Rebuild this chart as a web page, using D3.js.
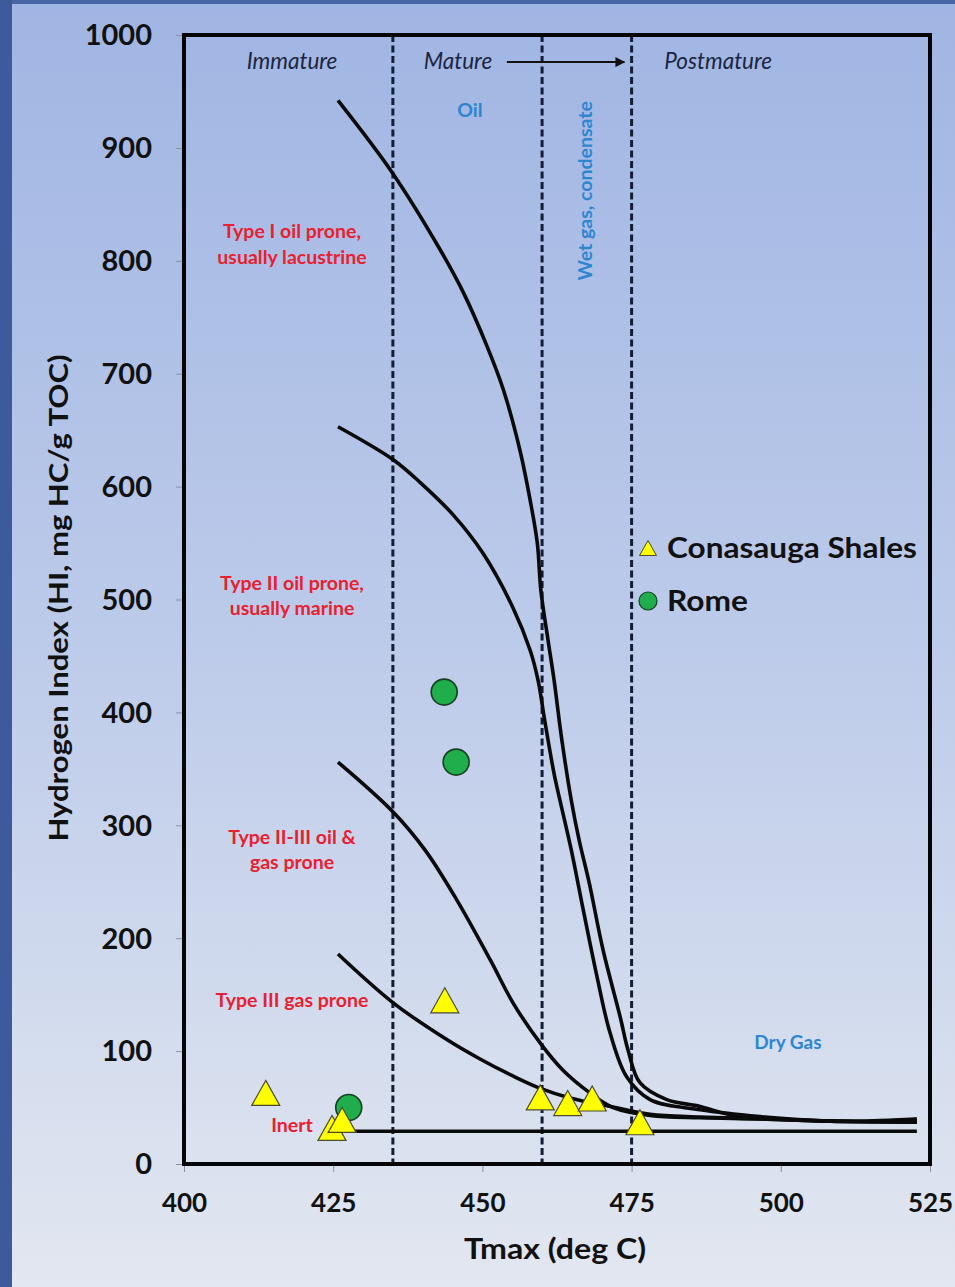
<!DOCTYPE html>
<html>
<head>
<meta charset="utf-8">
<script src="https://cdn.jsdelivr.net/npm/d3@7"></script>
<style>
  html, body { margin: 0; padding: 0; }
  body { width: 955px; height: 1287px; overflow: hidden; }
  svg { display: block; }
  text { font-family: Lato, "Open Sans", sans-serif; }
</style>
</head>
<body>
<svg id="chart" width="955" height="1287"></svg>
<script>
// Maturation pathways of kerogen types (Tmax in deg C, HI in mg HC/g TOC)
const typeI_T   = [425.8, 434.9, 442.9, 446.8, 450.8, 453.5, 456.3, 458.0, 459.2, 459.8, 461.0, 462.0, 463.3, 464.9, 466.2, 467.9, 470.2, 473.1, 474.4, 476.4, 480.9, 486.5, 492.0, 503.2, 514.4, 522.8];
const typeI_HI  = [942, 878, 810, 772, 724, 686, 632, 588, 550, 508, 464, 429, 376, 322, 287, 249, 190, 130, 101, 72, 57, 51, 43, 39, 38, 40];

const typeII_T  = [425.8, 435.0, 439.5, 445.1, 450.1, 455.1, 458.0, 459.3, 460.5, 462.0, 463.0, 464.9, 466.9, 469.2, 471.4, 474.2, 478.1, 486.5, 496.5, 508.2, 522.8];
const typeII_HI = [653, 624, 604, 575, 541, 493, 455, 429, 391, 346, 322, 278, 225, 166, 116, 77, 57, 48, 42, 38, 38];

const typeIIIII_T  = [425.8, 435.0, 440.4, 445.7, 451.3, 455.1, 459.7, 463.5, 468.0, 471.9, 478.1, 486.5, 496.5, 508.2, 522.8];
const typeIIIII_HI = [356, 312, 278, 234, 181, 143, 107, 83, 63, 50, 43, 41, 40, 38, 37];

const typeIII_T  = [425.8, 435.0, 444.1, 449.6, 455.1, 459.7, 464.7, 471.9, 478.1, 486.5, 496.5, 508.2, 522.8];
const typeIII_HI = [186, 143, 110, 93, 78, 67, 58.5, 50.5, 44, 41.6, 40, 38, 37];

const inert_T  = [426.0, 522.8];
const inert_HI = [29, 29];

// Maturity zone boundaries (Tmax)
const zoneBounds = [435, 460, 475];

// Samples
const conasauga_T  = [413.7, 424.8, 426.5, 443.7, 459.7, 464.3, 468.4, 476.4];
const conasauga_HI = [63, 32, 39, 145, 59, 54, 58, 37];

const rome_T  = [443.6, 445.6, 427.6];
const rome_HI = [418, 356, 50];

// Axis ticks
const xTicks = [400, 425, 450, 475, 500, 525];
const yTicks = [0, 100, 200, 300, 400, 500, 600, 700, 800, 900, 1000];

const W = 955, H = 1287;
const svg = d3.select("#chart");

// Slide background
const defs = svg.append("defs");
const grad = defs.append("linearGradient").attr("id", "bg").attr("x1", 0).attr("y1", 0).attr("x2", 0).attr("y2", 1);
grad.append("stop").attr("offset", "0%").attr("stop-color", "#a0b5e3");
grad.append("stop").attr("offset", "50%").attr("stop-color", "#bdcbea");
grad.append("stop").attr("offset", "100%").attr("stop-color", "#e2e7f0");
svg.append("rect").attr("width", W).attr("height", H).attr("fill", "url(#bg)");
svg.append("rect").attr("x", 0).attr("y", 0).attr("width", W).attr("height", 4).attr("fill", "#4964a5");
svg.append("rect").attr("x", 0).attr("y", 0).attr("width", 12).attr("height", H).attr("fill", "#3d5b9c");

defs.append("marker").attr("id", "arrow").attr("viewBox", "0 0 10 10")
  .attr("refX", 9).attr("refY", 5).attr("markerWidth", 5).attr("markerHeight", 5)
  .attr("orient", "auto")
  .append("path").attr("d", "M0,0 L10,5 L0,10 Z").attr("fill", "#111");

const x = d3.scaleLinear().domain([400, 525]).range([184, 930]);
const y = d3.scaleLinear().domain([0, 1000]).range([1164, 35]);

// Axes
const xAxis = d3.axisBottom(x).tickValues(xTicks).tickFormat(d3.format("d"))
  .tickSize(8).tickPadding(22).tickSizeOuter(0);
const yAxis = d3.axisLeft(y).tickValues(yTicks).tickFormat(d3.format("d"))
  .tickSize(8).tickPadding(24).tickSizeOuter(0);

const gx = svg.append("g").attr("transform", `translate(0,${y(0)})`).call(xAxis);
const gy = svg.append("g").attr("transform", `translate(${x(400)},0)`).call(yAxis);
[gx, gy].forEach(g => {
  g.select(".domain").remove();
  g.selectAll(".tick line").attr("stroke", "#8a93a6").attr("stroke-width", 1);
  g.selectAll(".tick text").attr("fill", "#111").attr("font-weight", 700)
    .style("font-family", "Lato, sans-serif");
});
gx.selectAll(".tick text").attr("font-size", 26);
gy.selectAll(".tick text").attr("font-size", 29).attr("dy", "0.34em");

// Axis titles
svg.append("text").attr("x", 555).attr("y", 1259).attr("text-anchor", "middle")
  .attr("font-size", 28).attr("font-weight", 700).attr("fill", "#111")
  .attr("textLength", 182).attr("lengthAdjust", "spacingAndGlyphs").text("Tmax (deg C)");
svg.append("text").attr("transform", `translate(68,${598}) rotate(-90)`).attr("text-anchor", "middle")
  .attr("font-size", 26).attr("font-weight", 700).attr("fill", "#111")
  .attr("textLength", 487).attr("lengthAdjust", "spacingAndGlyphs")
  .text("Hydrogen Index (HI, mg HC/g TOC)");

// Maturity zone boundaries
svg.append("g").selectAll("line").data(zoneBounds).join("line")
  .attr("x1", d => x(d)).attr("x2", d => x(d))
  .attr("y1", y(1000)).attr("y2", y(0))
  .attr("stroke", "#141d36").attr("stroke-width", 3).attr("stroke-dasharray", "7,3.5");

// Kerogen pathway curves
const curves = [
  [typeI_T, typeI_HI],
  [typeII_T, typeII_HI],
  [typeIIIII_T, typeIIIII_HI],
  [typeIII_T, typeIII_HI],
  [inert_T, inert_HI]
];
const line = d3.line().x(d => x(d[0])).y(d => y(d[1])).curve(d3.curveCatmullRom.alpha(0.5));
svg.append("g").selectAll("path").data(curves).join("path")
  .attr("d", c => line(c[0].map((t, i) => [t, c[1][i]])))
  .attr("fill", "none").attr("stroke", "#0a0a0a").attr("stroke-width", 3.6)
  .attr("stroke-linejoin", "round").attr("stroke-linecap", "butt");

// Frame
svg.append("rect").attr("x", x(400)).attr("y", y(1000))
  .attr("width", x(525) - x(400)).attr("height", y(0) - y(1000))
  .attr("fill", "none").attr("stroke", "#050505").attr("stroke-width", 4);

// Maturity labels
const navy = "#1c2540";
[["Immature", 418.1], ["Mature", 445.9], ["Postmature", 489.5]].forEach(([t, v]) => {
  svg.append("text").attr("x", x(v)).attr("y", y(970)).attr("text-anchor", "middle")
    .attr("font-size", 22.5).attr("font-style", "italic").attr("fill", navy).text(t);
});
svg.append("line").attr("x1", x(454.1)).attr("x2", x(473.8)).attr("y1", y(976)).attr("y2", y(976))
  .attr("stroke", "#111").attr("stroke-width", 2).attr("marker-end", "url(#arrow)");

// Hydrocarbon window labels
const blue = "#2f86d0";
svg.append("text").attr("x", x(447.9)).attr("y", y(927)).attr("text-anchor", "middle")
  .attr("font-size", 19.5).attr("font-weight", 700).attr("fill", blue).text("Oil");
svg.append("text").attr("transform", `translate(${x(468.3)},${y(862)}) rotate(-90)`).attr("text-anchor", "middle")
  .attr("font-size", 19.5).attr("font-weight", 700).attr("fill", blue).text("Wet gas, condensate");
svg.append("text").attr("x", x(501.2)).attr("y", y(102)).attr("text-anchor", "middle")
  .attr("font-size", 19).attr("font-weight", 700).attr("fill", blue).text("Dry Gas");

// Kerogen type labels
const red = "#e8202f";
const typeLabels = [
  ["Type I oil prone,", 820], ["usually lacustrine", 797],
  ["Type II oil prone,", 508], ["usually marine", 486],
  ["Type II-III oil &", 283], ["gas prone", 261],
  ["Type III gas prone", 139],
  ["Inert", 28]
];
svg.append("g").selectAll("text").data(typeLabels).join("text")
  .attr("x", x(418.1)).attr("y", d => y(d[1])).attr("text-anchor", "middle")
  .attr("font-size", 19.5).attr("font-weight", 700).attr("fill", red).text(d => d[0]);

// Sample markers
const tri = (w, h) => `M0,${-h / 2} L${w / 2},${h / 2} L${-w / 2},${h / 2} Z`;
svg.append("g").selectAll("circle").data(rome_T.map((t, i) => [t, rome_HI[i]])).join("circle")
  .attr("cx", d => x(d[0])).attr("cy", d => y(d[1])).attr("r", 13)
  .attr("fill", "#20ad4b").attr("stroke", "#163f24").attr("stroke-width", 1.6);
svg.append("g").selectAll("path").data(conasauga_T.map((t, i) => [t, conasauga_HI[i]])).join("path")
  .attr("transform", d => `translate(${x(d[0])},${y(d[1])})`)
  .attr("d", tri(28, 25))
  .attr("fill", "#ffff00").attr("stroke", "#4b4b30").attr("stroke-width", 1.2);

// Legend
const lg = svg.append("g");
lg.append("path").attr("transform", "translate(648,548)").attr("d", tri(17, 15))
  .attr("fill", "#ffff00").attr("stroke", "#4b4b30").attr("stroke-width", 1);
lg.append("circle").attr("cx", 648).attr("cy", 601).attr("r", 9)
  .attr("fill", "#20ad4b").attr("stroke", "#163f24").attr("stroke-width", 1.2);
lg.append("text").attr("x", 667).attr("y", 558).attr("font-size", 29).attr("font-weight", 700)
  .attr("fill", "#111").attr("textLength", 250).attr("lengthAdjust", "spacingAndGlyphs").text("Conasauga Shales");
lg.append("text").attr("x", 667).attr("y", 611).attr("font-size", 29).attr("font-weight", 700)
  .attr("fill", "#111").attr("textLength", 81).attr("lengthAdjust", "spacingAndGlyphs").text("Rome");
</script>
</body>
</html>
